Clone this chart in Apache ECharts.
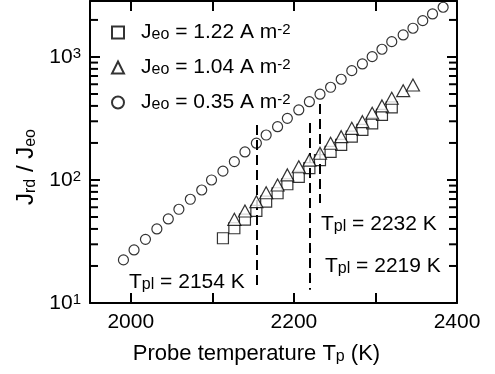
<!DOCTYPE html>
<html>
<head>
<meta charset="utf-8">
<script src="https://cdn.jsdelivr.net/npm/echarts@6/dist/echarts.min.js"></script>
<style>
html,body{margin:0;padding:0;background:#fff}
#chart{width:495px;height:374px}
</style>
</head>
<body>
<div id="chart"></div>
<script>
// probe temperature (K) and Jrd/Jeo
const tCircle = [1991,2004,2018,2032,2046,2059,2073,2087,2099,2113,2127,2140,2154,2166,2180,2192,2206,2219,2232,2245,2258,2271,2284,2296,2308,2320,2334,2346,2358,2370,2383]
const jCircle = [22.4,27.0,32.9,40.0,48.2,57.8,69.7,82.9,100,118,141,169,199,232,271,317,371,433,498,567,659,774,877,1006,1155,1332,1510,1712,1973,2237,2536]

const tSquare = [2113,2127,2140,2154,2166,2180,2192,2206,2219,2232,2245,2258,2271,2284,2296,2308,2320]
const jSquare = [33.6,40.5,47.7,56.0,66.6,78.0,92.3,106,125,145,169,193,225,255,289,338,389]

const tTriangle = [2127,2140,2154,2166,2180,2192,2206,2219,2232,2245,2258,2271,2284,2296,2308,2320,2334,2346]
const jTriangle = [47.9,56.0,66.6,78.8,91.1,110,128,145,165,199,225,263,298,349,400,462,532,592]

// dashed T_pl markers: temperature, top and bottom of the dash
const plTemp = [2154, 2219, 2232]
const plTop = [280, 290, 415]
const plBottom = [13.5, 12.8, 65]

const seriesNames = ['Jeo = 1.22 A m-2', 'Jeo = 1.04 A m-2', 'Jeo = 0.35 A m-2']
const legendRich = {
  'Jeo = 1.22 A m-2': '{a|J}{s|eo}{a| = 1.22 A m}{p|-2}',
  'Jeo = 1.04 A m-2': '{a|J}{s|eo}{a| = 1.04 A m}{p|-2}',
  'Jeo = 0.35 A m-2': '{a|J}{s|eo}{a| = 0.35 A m}{p|-2}'
}
const minorTicks = [20,30,40,50,60,70,80,90,200,300,400,500,600,700,800,900,2000]

const X_MIN = 1950, X_MAX = 2400
const FONT = '"Liberation Sans", Arial, Helvetica, sans-serif'

function richStyle(size){
  return {
    a: {fontSize: size, fontFamily: FONT, color: '#000'},
    s: {fontSize: 16, fontFamily: FONT, color: '#000', verticalAlign: 'bottom', lineHeight: 16, padding: [11,0,0,0]},
    p: {fontSize: 15, fontFamily: FONT, color: '#000', verticalAlign: 'top', lineHeight: 15, padding: [0,0,12,0]}
  }
}

const pairs = (xs, ys) => xs.map((x, i) => [x, ys[i]])

var myChart = echarts.init(document.getElementById('chart'), null, {renderer: 'canvas'})

const symStyle = {color: '#fff', borderColor: '#000', borderWidth: 1.2}
const axisLine = {show: true, lineStyle: {color: '#000', width: 2}}
const tick = {show: true, inside: true, length: 10, lineStyle: {color: '#000', width: 2}}

var option = {
  animation: false,
  backgroundColor: '#fff',
  grid: {left: 90, right: 38, top: 1, bottom: 71},
  legend: {
    orient: 'vertical',
    left: 106,
    top: 11,
    itemWidth: 12,
    itemHeight: 12,
    itemGap: 2,
    data: seriesNames,
    formatter: function(name){ return legendRich[name] },
    textStyle: {padding: [0,0,0,12], rich: richStyle(21)}
  },
  xAxis: [
    {
      type: 'value', min: X_MIN, max: X_MAX, minInterval: 100, maxInterval: 100,
      axisLine: axisLine, axisTick: tick, splitLine: {show: false},
      axisLabel: {
        margin: 9, color: '#000', fontSize: 21, fontFamily: FONT, showMinLabel: false,
        formatter: function(v){ return v % 200 === 0 ? String(v) : '' }
      },
      name: '{a|Probe temperature T}{s|p}{a| (K)}',
      nameLocation: 'middle', nameGap: 38,
      nameTextStyle: {padding: [0,34,0,0], rich: richStyle(22)}
    },
    {
      type: 'value', position: 'top', min: X_MIN, max: X_MAX, minInterval: 100, maxInterval: 100,
      axisLine: axisLine, axisTick: tick, axisLabel: {show: false}, splitLine: {show: false}
    }
  ],
  yAxis: [
    {
      type: 'log', logBase: 10, min: 10, max: 2850,
      axisLine: axisLine, axisTick: tick, splitLine: {show: false},
      axisLabel: {
        margin: 9, rich: richStyle(21),
        formatter: function(v){
          const e = Math.log10(v)
          return Math.abs(e - Math.round(e)) < 1e-6 ? '{a|10}{p|' + Math.round(e) + '}' : ''
        }
      },
      name: '{a|J}{s|rd}{a| / J}{s|eo}',
      nameLocation: 'middle', nameGap: 44, nameRotate: 90,
      nameTextStyle: {padding: [0,30,0,0], rich: richStyle(24)}
    },
    {
      type: 'log', logBase: 10, min: 10, max: 2850, position: 'right',
      axisLine: axisLine, axisTick: tick, axisLabel: {show: false}, splitLine: {show: false}
    }
  ],
  series: [
    {
      name: seriesNames[2], type: 'scatter', symbol: 'circle', symbolSize: 10,
      itemStyle: symStyle, data: pairs(tCircle, jCircle), z: 3,
      markLine: {
        silent: true, symbol: ['none','none'], label: {show: false},
        lineStyle: {color: '#000', width: 2, type: [10,5]},
        data: plTemp.map((t, i) => [{coord: [t, plTop[i]]}, {coord: [t, plBottom[i]]}])
      }
    },
    {
      name: seriesNames[0], type: 'scatter', symbol: 'rect', symbolSize: 11,
      itemStyle: symStyle, data: pairs(tSquare, jSquare), z: 4
    },
    {
      name: seriesNames[1], type: 'scatter', symbol: 'triangle', symbolSize: [13,12],
      itemStyle: symStyle, data: pairs(tTriangle, jTriangle), z: 5
    },
    {
      type: 'custom', silent: true, z: 6,
      data: minorTicks.map(v => [X_MIN, v]),
      renderItem: function(params, api){
        const v = api.value(1)
        const l = api.coord([X_MIN, v])
        const r = api.coord([X_MAX, v])
        const st = {stroke: '#000', lineWidth: 2}
        return {type: 'group', children: [
          {type: 'line', shape: {x1: l[0], y1: l[1], x2: l[0] + 8, y2: l[1]}, style: st},
          {type: 'line', shape: {x1: r[0], y1: r[1], x2: r[0] - 8, y2: r[1]}, style: st}
        ]}
      }
    }
  ],
  graphic: [
    {type: 'text', left: 129, top: 266, style: {text: '{a|T}{s|pl}{a| = 2154 K}', rich: richStyle(21)}},
    {type: 'text', left: 321, top: 208, style: {text: '{a|T}{s|pl}{a| = 2232 K}', rich: richStyle(21)}},
    {type: 'text', left: 325, top: 250, style: {text: '{a|T}{s|pl}{a| = 2219 K}', rich: richStyle(21)}}
  ]
};
myChart.setOption(option);
</script>
</body>
</html>
